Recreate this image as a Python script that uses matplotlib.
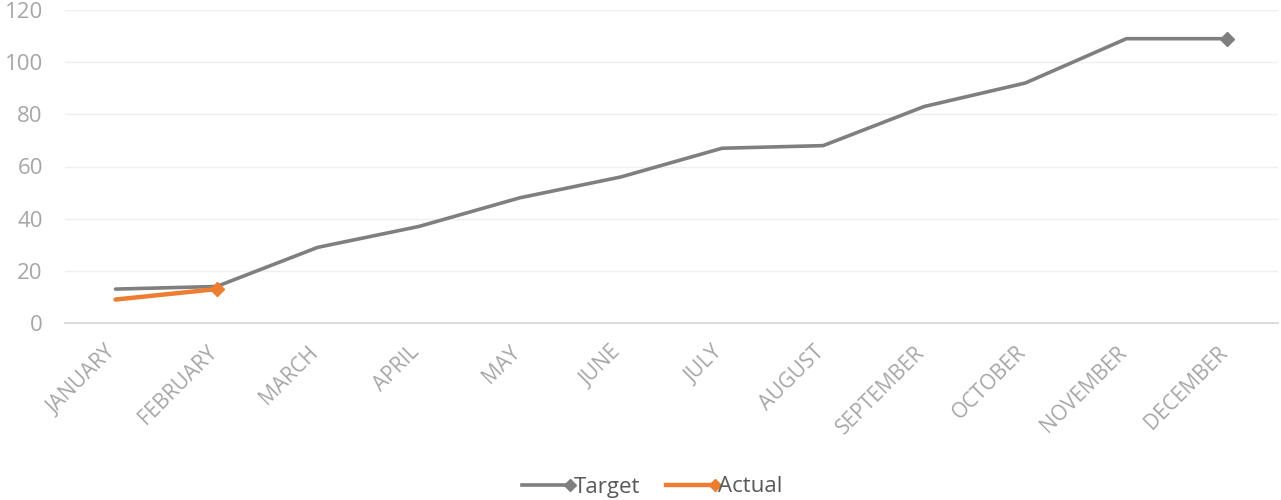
import matplotlib
matplotlib.use("Agg")
import matplotlib.pyplot as plt
from matplotlib.lines import Line2D
from matplotlib.legend_handler import HandlerLine2D
from matplotlib.transforms import ScaledTranslation

months = ["JANUARY", "FEBRUARY", "MARCH", "APRIL", "MAY", "JUNE", "JULY",
          "AUGUST", "SEPTEMBER", "OCTOBER", "NOVEMBER", "DECEMBER"]
target = [13, 14, 29, 37, 48, 56, 67, 68, 83, 92, 109, 109]
actual = [9, 13]
yticks = [0, 20, 40, 60, 80, 100, 120]

plt.rcParams['font.family'] = ['Open Sans', 'DejaVu Sans']

fig = plt.figure(figsize=(12.81, 5.0), dpi=100)
ax = fig.add_axes([65/1281, 1 - 323/500, (1278-65)/1281, (323-10)/500])

gray = "#7F7F7F"
orange = "#ED7D31"
x_t = list(range(len(target)))
x_a = list(range(len(actual)))
ax.plot(x_t, target, color=gray, lw=2.6, solid_capstyle='round', zorder=3)
ax.plot(x_t[-1:], target[-1:], marker='D', color=gray, ms=7, zorder=4)
ax.plot(x_a, actual, color=orange, lw=3.2, solid_capstyle='round', zorder=5)
ax.plot(x_a[-1:], actual[-1:], marker='D', color=orange, ms=7, zorder=6)

ax.set_xlim(-0.5, 11.5)
ax.set_ylim(0, 120)
ax.set_yticks(yticks)
ax.set_yticklabels([str(v) for v in yticks], color="#A6A6A6", fontsize=16)
ax.set_xticks(x_t)
ax.set_xticklabels([])
offset = ScaledTranslation(-10/100, -19/100, fig.dpi_scale_trans)
for i, m in enumerate(months):
    ax.text(x_t[i], 0, m, transform=ax.get_xaxis_transform() + offset,
            rotation=45, ha='right', va='top', rotation_mode='anchor',
            color="#A6A6A6", fontsize=15, clip_on=False)
ax.tick_params(axis='both', length=0)
ax.tick_params(axis='y', pad=16)
ax.grid(axis='y', color="#EFEFEF", lw=1)
ax.set_axisbelow(True)
for s in ['top', 'right', 'left']:
    ax.spines[s].set_visible(False)
ax.spines['bottom'].set_color("#D9D9D9")
ax.spines['bottom'].set_linewidth(1.3)


class EndMarker(HandlerLine2D):
    def create_artists(self, legend, orig_handle, xdescent, ydescent, width, height, fontsize, trans):
        y = (height - ydescent) / 2
        line = Line2D([-xdescent, width - xdescent], [y, y], color=orig_handle.get_color(),
                      lw=orig_handle.get_linewidth(), transform=trans)
        mk = Line2D([width - xdescent], [y], color=orig_handle.get_color(), marker='D',
                    ms=6, transform=trans, linestyle='none')
        return [line, mk]


handles = [Line2D([0], [0], color=gray, lw=2.6), Line2D([0], [0], color=orange, lw=3.2)]
fig.legend(handles, ["Target", "Actual"], loc='center', bbox_to_anchor=(652/1281, 1 - 487/500),
           ncol=2, frameon=False, fontsize=16, handlelength=2.2, handletextpad=0.15,
           columnspacing=1.15, labelcolor="#595959",
           handler_map={Line2D: EndMarker()})

fig.savefig("out.png", dpi=100)
